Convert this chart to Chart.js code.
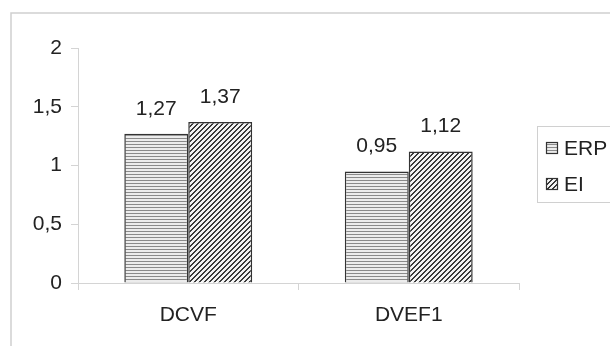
<!DOCTYPE html>
<html>
<head>
<meta charset="utf-8">
<script src="https://cdn.jsdelivr.net/npm/chart.js@4/dist/chart.umd.min.js"></script>
<style>
  html, body { margin: 0; padding: 0; background: #fff; overflow: hidden; width: 610px; height: 346px; }
  canvas { display: block; }
</style>
</head>
<body>
<canvas id="c" width="640" height="346"></canvas>
<script>
// ---- data ----
const categories = ['DCVF', 'DVEF1'];
const seriesNames = ['ERP', 'EI'];
const erpValues = [1.27, 0.95];
const eiValues = [1.37, 1.12];
const yTickLabels = ['0', '0,5', '1', '1,5', '2'];

const FONT = "'Liberation Sans', Arial, sans-serif";
const FSIZE = 21;
const TXT = '#222';
const AXIS = '#d4d4d4';

const canvas = document.getElementById('c');
const ctx = canvas.getContext('2d');

function stripePattern() {
  const c = document.createElement('canvas');
  c.width = 4; c.height = 3;
  const x = c.getContext('2d');
  x.fillStyle = '#ececec'; x.fillRect(0, 0, 4, 3);
  x.fillStyle = '#8a8a8a'; x.fillRect(0, 0, 4, 1);
  return ctx.createPattern(c, 'repeat');
}
function diagPattern() {
  const n = 5;
  const c = document.createElement('canvas');
  c.width = n; c.height = n;
  const x = c.getContext('2d');
  for (let i = 0; i < n; i++) for (let j = 0; j < n; j++) {
    x.fillStyle = ((i + j) % n < 2) ? '#3a3a3a' : '#f4f4f4';
    x.fillRect(i, j, 1, 1);
  }
  return ctx.createPattern(c, 'repeat');
}
const patterns = [stripePattern(), diagPattern()];

const fmt = v => v.toFixed(2).replace('.', ',');

const framePlugin = {
  id: 'frame',
  beforeDraw(chart) {
    const c = chart.ctx;
    c.save();
    c.fillStyle = '#fff';
    c.fillRect(0, 0, chart.width, chart.height);
    c.strokeStyle = '#d0d0d0';
    c.lineWidth = 1.5;
    c.beginPath();
    c.moveTo(11, 400); c.lineTo(11, 13); c.lineTo(700, 13);
    c.stroke();
    c.restore();
  }
};

const valueLabels = {
  id: 'valueLabels',
  afterDatasetsDraw(chart) {
    const c = chart.ctx;
    c.save();
    c.font = FSIZE + 'px ' + FONT;
    c.fillStyle = TXT;
    c.textAlign = 'center';
    c.textBaseline = 'middle';
    chart.data.datasets.forEach((ds, di) => {
      chart.getDatasetMeta(di).data.forEach((bar, i) => {
        c.fillText(fmt(ds.data[i]), bar.x, bar.y - 25);
      });
    });
    c.restore();
  }
};

const boxLegend = {
  id: 'boxLegend',
  afterDraw(chart) {
    const c = chart.ctx;
    c.save();
    c.strokeStyle = '#d0d0d0';
    c.lineWidth = 1;
    c.strokeRect(537.5, 126.5, 150, 76);
    c.font = FSIZE + 'px ' + FONT;
    c.textBaseline = 'middle';
    c.textAlign = 'left';
    const ys = [148, 184];
    chart.data.datasets.forEach((ds, i) => {
      c.fillStyle = ds.backgroundColor;
      c.fillRect(546, ys[i] - 6, 12, 12);
      c.strokeStyle = '#333';
      c.lineWidth = 1.2;
      c.strokeRect(546.5, ys[i] - 5.5, 11, 11);
      c.fillStyle = TXT;
      c.fillText(ds.label, 564, ys[i] + 1);
    });
    c.restore();
  }
};

new Chart(canvas, {
  type: 'bar',
  data: {
    labels: categories,
    datasets: [
      { label: seriesNames[0], data: erpValues, backgroundColor: patterns[0], borderColor: '#333', borderWidth: 1.5 },
      { label: seriesNames[1], data: eiValues, backgroundColor: patterns[1], borderColor: '#333', borderWidth: 1.5 }
    ]
  },
  options: {
    responsive: false,
    animation: false,
    devicePixelRatio: 1,
    layout: { padding: { top: 48, right: 121, bottom: 0, left: 0 } },
    datasets: { bar: { categoryPercentage: 0.58, barPercentage: 1.0 } },
    plugins: { legend: { display: false }, tooltip: { enabled: false } },
    scales: {
      x: {
        grid: { offset: true, drawOnChartArea: false, tickLength: 7, color: AXIS },
        border: { color: AXIS, width: 1 },
        ticks: { font: { family: FONT, size: FSIZE }, color: TXT, padding: 13 },
        afterFit: s => { s.height = 63; }
      },
      y: {
        min: 0, max: 2,
        grid: { drawOnChartArea: false, tickLength: 7, color: AXIS },
        border: { color: AXIS, width: 1 },
        ticks: {
          stepSize: 0.5,
          font: { family: FONT, size: FSIZE }, color: TXT, padding: 9,
          callback: (v, i) => yTickLabels[i]
        },
        afterFit: s => { s.width = 78; }
      }
    }
  },
  plugins: [framePlugin, valueLabels, boxLegend]
});
</script>
</body>
</html>
